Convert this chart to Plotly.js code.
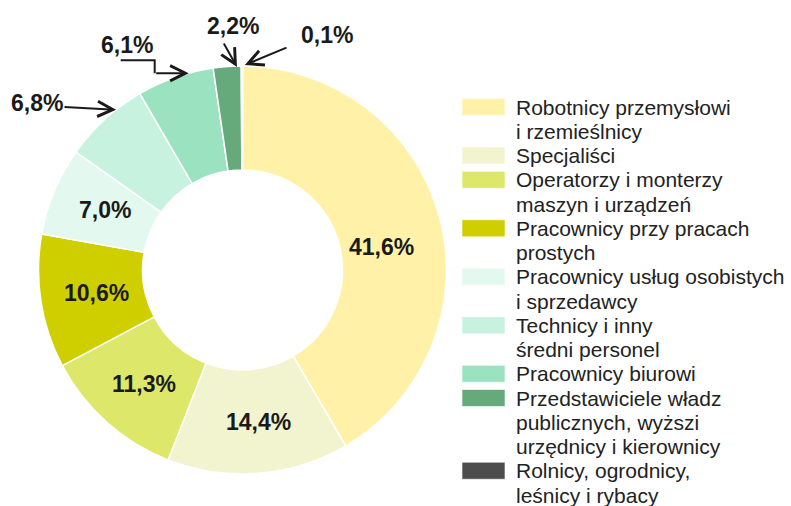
<!DOCTYPE html>
<html>
<head>
<meta charset="utf-8">
<script src="https://cdn.plot.ly/plotly-3.0.1.min.js"></script>
<style>html,body{margin:0;padding:0;background:#fff;}#chart{width:791px;height:506px;}</style>
</head>
<body>
<div id="chart"></div>
<script>
// ---- data ----
const categories = [
  'Robotnicy przemysłowi<br>i rzemieślnicy',
  'Specjaliści',
  'Operatorzy i monterzy<br>maszyn i urządzeń',
  'Pracownicy przy pracach<br>prostych',
  'Pracownicy usług osobistych<br>i sprzedawcy',
  'Technicy i inny<br>średni personel',
  'Pracownicy biurowi',
  'Przedstawiciele władz<br>publicznych, wyższi<br>urzędnicy i kierownicy',
  'Rolnicy, ogrodnicy,<br>leśnicy i rybacy'
];
const shares = [41.6, 14.4, 11.3, 10.6, 7.0, 6.8, 6.1, 2.2, 0.1];
const colors = ['#FFF2A8', '#F2F4CF', '#DDE86A', '#CFCF00', '#E3F8EE', '#C7F2E0', '#9BE3C0', '#66A97A', '#4D4D4D'];

// ---- geometry / placement ----
const W = 791, H = 506;
const CX = 242.5, CY = 270, R = 204, HOLE = 0.49;
const FONT = '"Liberation Sans", Arial, sans-serif';
const fmt = v => v.toFixed(1).replace('.', ',') + '%';
const px = x => x / W;
const py = y => 1 - y / H;
const total = shares.reduce((a, b) => a + b, 0);
const cum = [];
shares.reduce((a, v, i) => { cum[i] = a; return a + v; }, 0);
function polar(i, frac, rr) {
  const a = (cum[i] + frac * shares[i]) / total * 2 * Math.PI;
  return [CX + rr * R * Math.sin(a), CY - rr * R * Math.cos(a)];
}
// inside label placement (fraction along slice, fraction of radius)
const inFrac = [0.54, 0.47, 0.48, 0.5, 0.53];
const inRad  = [0.69, 0.75, 0.74, 0.725, 0.735];

const trace = {
  type: 'pie',
  labels: categories,
  values: shares,
  textinfo: 'none',
  marker: {colors: colors, line: {color: '#ffffff', width: 1.5}},
  hole: HOLE,
  sort: false,
  direction: 'clockwise',
  rotation: 0,
  hoverinfo: 'none',
  showlegend: false,
  domain: {x: [px(CX - R), px(CX + R)], y: [py(CY + R), py(CY - R)]}
};

const annotations = [];
const shapes = [];
const lblFont = {family: FONT, size: 23, color: '#1a1a1a'};
const arrowStyle = {showarrow: true, arrowhead: 5, arrowsize: 1.5, arrowwidth: 2, arrowcolor: '#1a1a1a', text: ''};
const label = (x, y, s) => ({x: px(x), y: py(y), xref: 'paper', yref: 'paper', xanchor: 'center', yanchor: 'middle',
  showarrow: false, text: '<b>' + s + '</b>', font: lblFont});
const arrow = (hx, hy, tx, ty) => Object.assign({x: px(hx), y: py(hy), xref: 'paper', yref: 'paper',
  ax: tx - hx, ay: ty - hy}, arrowStyle);

// inside labels
inFrac.forEach((f, i) => {
  const [x, y] = polar(i, f, inRad[i]);
  annotations.push(label(x, y, fmt(shares[i])));
});

// outside labels
{ // 6,8%
  const [hx, hy] = polar(5, 0.67, 1);
  annotations.push(label(37, 103, fmt(shares[5])));
  annotations.push(arrow(hx, hy, 63, 107));
}
{ // 6,1% with elbow
  const [hx, hy] = polar(6, 0.68, 1);
  annotations.push(arrow(hx, hy, hx - 34, hy));
  shapes.push({type: 'path', xref: 'paper', yref: 'paper',
    path: `M${px(hx - 34)},${py(hy)} L${px(hx - 34)},${py(hy - 13)} L${px(hx - 68)},${py(hy - 13)}`,
    line: {color: '#1a1a1a', width: 2}});
  annotations.push(label(127, 45, fmt(shares[6])));
}
{ // 2,2%
  const [hx, hy] = polar(7, 0.85, 1);
  annotations.push(label(233, 26, fmt(shares[7])));
  annotations.push(arrow(hx, hy + 1, 223, 42));
}
{ // 0,1%
  const [hx, hy] = polar(8, 0.5, 1);
  annotations.push(label(327, 35, fmt(shares[8])));
  annotations.push(arrow(hx + 3, hy - 1, 288, 47));
}

// custom legend
const LINE = 24.25;
let lineY = 107;
categories.forEach((c, i) => {
  const lines = c.split('<br>');
  shapes.push({type: 'rect', xref: 'paper', yref: 'paper',
    x0: px(462), x1: px(505), y0: py(lineY - 8.5), y1: py(lineY + 8.5),
    fillcolor: colors[i], line: {color: 'rgba(255,255,255,0.6)', width: 1}});
  lines.forEach(l => {
    annotations.push({x: px(514), y: py(lineY), xref: 'paper', yref: 'paper',
      xanchor: 'left', yanchor: 'middle', showarrow: false, text: l,
      font: {family: FONT, size: 21, color: '#222222'}});
    lineY += LINE;
  });
});

const layout = {
  width: W, height: H,
  margin: {l: 0, r: 0, t: 0, b: 0},
  paper_bgcolor: '#ffffff',
  showlegend: false,
  annotations: annotations,
  shapes: shapes
};

Plotly.newPlot('chart', [trace], layout, {displayModeBar: false, staticPlot: true});
</script>
</body>
</html>
